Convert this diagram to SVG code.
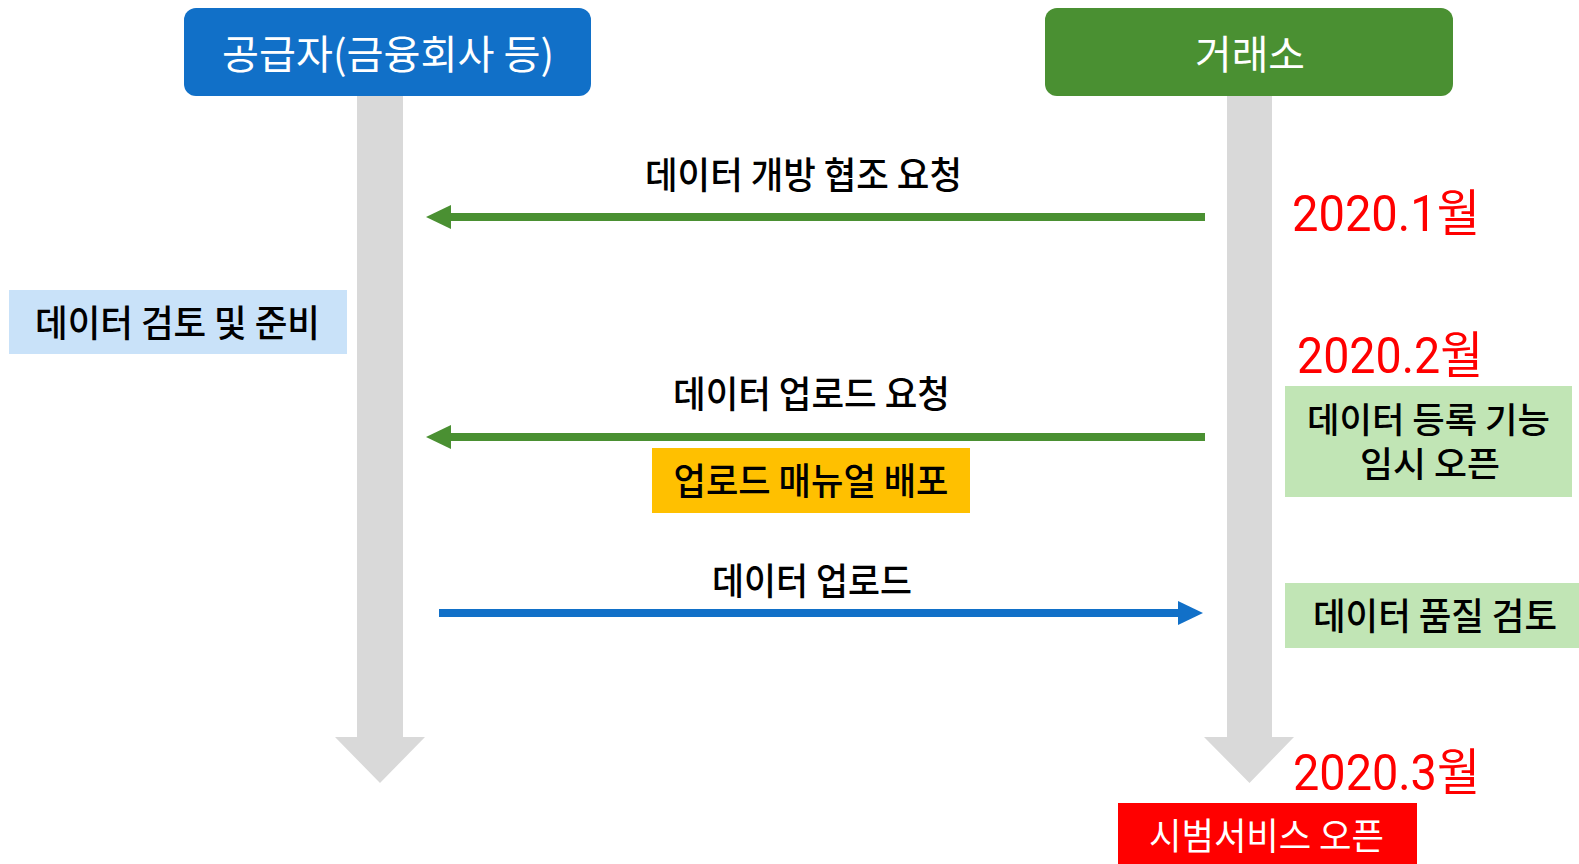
<svg xmlns="http://www.w3.org/2000/svg" width="1579" height="864" viewBox="0 0 1579 864">
<defs>
<style>
.kr{font-family:"Noto Sans CJK KR","Noto Sans",sans-serif;font-size:37px;font-weight:500;fill:#000;text-anchor:middle}
.hd{font-size:40px;font-weight:400;fill:#fff}
.wt{fill:#fff;font-weight:400}
.sm{font-size:35px}
.date{font-family:Roboto,"Noto Sans CJK KR",sans-serif;font-size:50px;fill:#FF0000}
.life{fill:#D9D9D9}
.g{stroke:#4A9032;stroke-width:8;fill:none}
.b{stroke:#1170C8;stroke-width:8;fill:none}
</style>
<marker id="hg" viewBox="0 0 25 24" markerWidth="25" markerHeight="24" refX="0" refY="12" orient="auto" markerUnits="userSpaceOnUse">
<path d="M0,0 L25,12 L0,24 Z" fill="#4A9032"/>
</marker>
<marker id="hb" viewBox="0 0 25 24" markerWidth="25" markerHeight="24" refX="0" refY="12" orient="auto" markerUnits="userSpaceOnUse">
<path d="M0,0 L25,12 L0,24 Z" fill="#1170C8"/>
</marker>
</defs>
<rect width="1579" height="864" fill="#fff"/>

<g id="lifelines">
<path class="life" d="M357,96 H403 V737 H425 L380,783 L335,737 H357 Z"/>
<path class="life" d="M1227,96 H1272 V737 H1294 L1249.5,783 L1204,737 H1227 Z"/>
</g>

<g id="supplier">
<rect x="184" y="8" width="407" height="88" rx="12" fill="#1170C8"/>
<text class="kr hd" x="388" y="69" textLength="332" lengthAdjust="spacingAndGlyphs">공급자(금융회사 등)</text>
</g>

<g id="exchange">
<rect x="1045" y="8" width="408" height="88" rx="12" fill="#4A9032"/>
<text class="kr hd" x="1250" y="69" textLength="110" lengthAdjust="spacingAndGlyphs">거래소</text>
</g>

<g id="connectors">
<line class="g" x1="1205" y1="217" x2="451" y2="217" marker-end="url(#hg)"/>
<line class="g" x1="1205" y1="437" x2="451" y2="437" marker-end="url(#hg)"/>
<line class="b" x1="439" y1="613" x2="1178" y2="613" marker-end="url(#hb)"/>
<text class="kr" x="803.5" y="189" textLength="317" lengthAdjust="spacingAndGlyphs">데이터 개방 협조 요청</text>
<text class="kr" x="811.5" y="408" textLength="277" lengthAdjust="spacingAndGlyphs">데이터 업로드 요청</text>
<text class="kr" x="812" y="595" textLength="200" lengthAdjust="spacingAndGlyphs">데이터 업로드</text>
</g>

<g id="review-prep">
<rect x="9" y="290" width="338" height="64" fill="#C9E2F9"/>
<text class="kr" x="177.5" y="337" textLength="285" lengthAdjust="spacingAndGlyphs">데이터 검토 및 준비</text>
</g>

<g id="manual">
<rect x="652" y="448" width="318" height="65" fill="#FFC000"/>
<text class="kr" x="811" y="495" textLength="275" lengthAdjust="spacingAndGlyphs">업로드 매뉴얼 배포</text>
</g>

<g id="date-1">
<text class="date" x="1292" y="231" textLength="188" lengthAdjust="spacingAndGlyphs">2020.1월</text>
</g>
<g id="date-2">
<text class="date" x="1297" y="373" textLength="186" lengthAdjust="spacingAndGlyphs">2020.2월</text>
</g>
<g id="date-3">
<text class="date" x="1293" y="790" textLength="187" lengthAdjust="spacingAndGlyphs">2020.3월</text>
</g>

<g id="temp-open">
<rect x="1285" y="386" width="287" height="111" fill="#C1E5B5"/>
<text class="kr sm"><tspan x="1428.5" y="433" textLength="243" lengthAdjust="spacingAndGlyphs">데이터 등록 기능</tspan><tspan x="1430" y="477" textLength="140" lengthAdjust="spacingAndGlyphs">임시 오픈</tspan></text>
</g>

<g id="quality-review">
<rect x="1285" y="583" width="294" height="65" fill="#C1E5B5"/>
<text class="kr" x="1435" y="630" textLength="244" lengthAdjust="spacingAndGlyphs">데이터 품질 검토</text>
</g>

<g id="pilot-open">
<rect x="1118" y="803" width="299" height="61" fill="#FF0000"/>
<text class="kr wt" x="1266.5" y="850" textLength="235" lengthAdjust="spacingAndGlyphs">시범서비스 오픈</text>
</g>
</svg>
